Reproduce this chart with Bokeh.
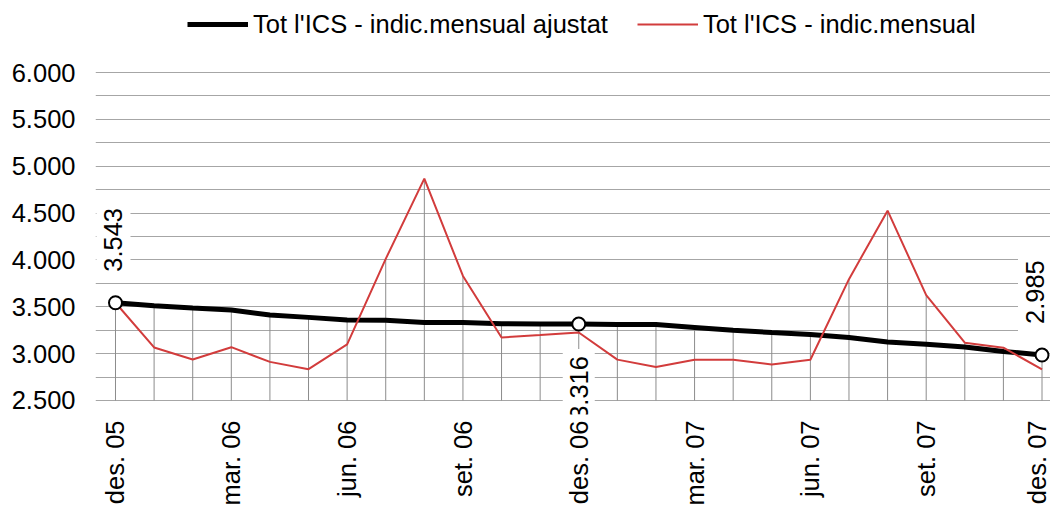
import math
from bokeh.plotting import figure
from bokeh.models import FixedTicker, Legend, LegendItem
from bokeh.core.properties import value
from bokeh.embed import file_html
from bokeh.resources import INLINE

# ---------------- data ----------------
months = ["des. 05", "gen. 06", "feb. 06", "mar. 06", "abr. 06", "mai. 06",
          "jun. 06", "jul. 06", "ago. 06", "set. 06", "oct. 06", "nov. 06",
          "des. 06", "gen. 07", "feb. 07", "mar. 07", "abr. 07", "mai. 07",
          "jun. 07", "jul. 07", "ago. 07", "set. 07", "oct. 07", "nov. 07",
          "des. 07"]

ajustat = [3543, 3512, 3487, 3465, 3412, 3387, 3358, 3357, 3333, 3332, 3318, 3317,
           3316, 3312, 3310, 3280, 3250, 3225, 3204, 3172, 3125, 3100, 3071, 3024,
           2985]

mensual = [3543, 3066, 2937, 3069, 2912, 2834, 3098, 4011, 4867, 3829, 3173, 3198,
           3226, 2936, 2857, 2935, 2935, 2885, 2935, 3795, 4526, 3624, 3117, 3064,
           2832]

x_tick_labels = ["des. 05", "mar. 06", "jun. 06", "set. 06", "des. 06",
                 "mar. 07", "jun. 07", "set. 07", "des. 07"]
y_ticks = [2500, 3000, 3500, 4000, 4500, 5000, 5500, 6000]
y_tick_labels = ["2.500", "3.000", "3.500", "4.000", "4.500", "5.000", "5.500", "6.000"]
y_minor_ticks = [2750, 3250, 3750, 4250, 4750, 5250, 5750]

labelled_above = [0, 24]
labelled_below = [12]
series_names = ["Tot l'ICS - indic.mensual ajustat", "Tot l'ICS - indic.mensual"]

# ---------------- figure ----------------
FONT = "Liberation Sans"
FS = "25.5px"
x = list(range(len(months)))


def fmt(v):
    return f"{v:,}".replace(",", ".")


p = figure(width=1050, height=509,
           x_range=(-0.518, 24.22), y_range=(2350.6, 6768.3),
           output_backend="svg", toolbar_location=None,
           min_border_left=95, min_border_right=0,
           min_border_top=0, min_border_bottom=95)
p.outline_line_color = None
p.background_fill_color = "white"
p.border_fill_color = "white"

# axes
p.xaxis.ticker = FixedTicker(ticks=[months.index(m) for m in x_tick_labels])
p.xaxis.major_label_overrides = {months.index(m): m for m in x_tick_labels}
p.xaxis.major_label_orientation = math.pi / 2
p.yaxis.ticker = FixedTicker(ticks=y_ticks, minor_ticks=y_minor_ticks)
p.yaxis.major_label_overrides = {t: l for t, l in zip(y_ticks, y_tick_labels)}
for ax in (p.xaxis, p.yaxis):
    ax.axis_line_color = None
    ax.major_tick_line_color = None
    ax.minor_tick_line_color = None
    ax.major_tick_out = 0
    ax.major_tick_in = 0
    ax.minor_tick_out = 0
    ax.minor_tick_in = 0
    ax.major_label_text_font = FONT
    ax.major_label_text_font_size = FS
    ax.major_label_text_color = "#000000"
p.xaxis.major_label_standoff = 6
p.yaxis.major_label_standoff = 20

# grid
p.xgrid.visible = False
p.ygrid.grid_line_color = "#a6a6a6"
p.ygrid.grid_line_width = 1
p.ygrid.minor_grid_line_color = "#a6a6a6"
p.ygrid.minor_grid_line_width = 1

# drop lines
tops = [max(a, b) for a, b in zip(ajustat, mensual)]
p.segment(x0=x, y0=[y_ticks[0]] * len(x), x1=x, y1=tops,
          line_color="#8c8c8c", line_width=1)

# series
black = p.line(x, ajustat, line_color="#000000", line_width=5)
red = p.line(x, mensual, line_color="#d23c3c", line_width=2)

# data labels (white boxes covering the lines behind them)
p.text(x=[x[i] for i in labelled_above], y=[ajustat[i] for i in labelled_above],
       text=[fmt(ajustat[i]) for i in labelled_above],
       angle=math.pi / 2, text_align="left", text_baseline="middle",
       x_offset=[-2, -7], y_offset=-23,
       text_font=value(FONT), text_font_size=value(FS), text_color="#000000",
       background_fill_color="white", padding=8)
p.text(x=[x[i] for i in labelled_below], y=[ajustat[i] for i in labelled_below],
       text=[fmt(ajustat[i]) for i in labelled_below],
       angle=math.pi / 2, text_align="right", text_baseline="middle",
       x_offset=0, y_offset=25,
       text_font=value(FONT), text_font_size=value(FS), text_color="#000000",
       background_fill_color="white", padding=7)

pts = labelled_above[:1] + labelled_below + labelled_above[1:]
p.scatter([x[i] for i in pts], [ajustat[i] for i in pts],
          size=13, fill_color="white", line_color="#000000", line_width=2)

# legend
legend = Legend(items=[LegendItem(label=series_names[0], renderers=[black]),
                       LegendItem(label=series_names[1], renderers=[red])],
                orientation="horizontal", location=(92, 375),
                label_text_font=FONT, label_text_font_size=FS,
                label_text_color="#000000",
                glyph_width=61, glyph_height=30, label_height=30,
                label_standoff=5, spacing=29, padding=0, margin=0,
                border_line_color=None, background_fill_alpha=0)
p.add_layout(legend, "center")

open("out.html", "w").write(file_html(p, INLINE))
